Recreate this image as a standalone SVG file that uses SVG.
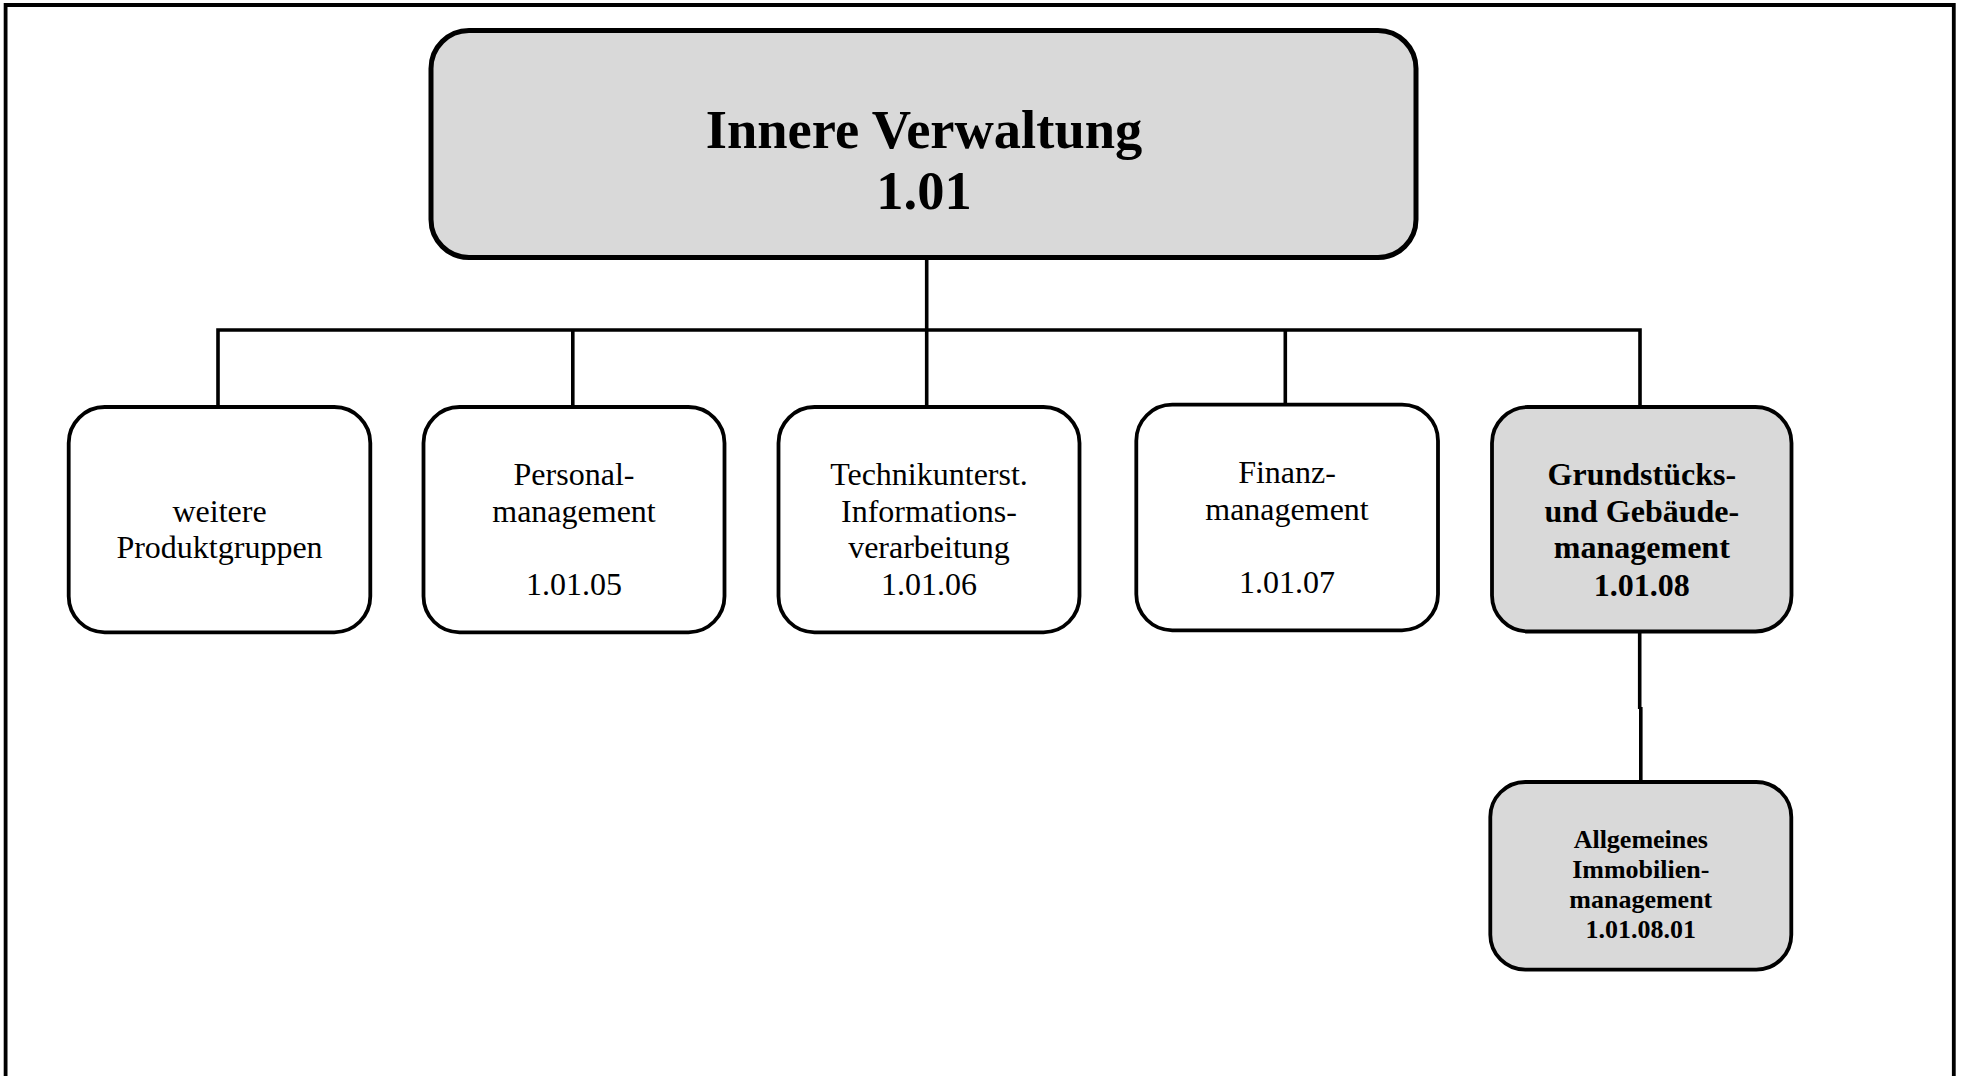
<svg xmlns="http://www.w3.org/2000/svg" width="1961" height="1076" viewBox="0 0 1961 1076">
<style>
  .frame { fill: none; stroke: #000; stroke-width: 3.8; }
  .box { fill: #fff; stroke: #000; stroke-width: 3.8; }
  .gray { fill: #d9d9d9; }
  .top { fill: #d9d9d9; stroke: #000; stroke-width: 5; }
  .conn { fill: none; stroke: #000; stroke-width: 3.6; }
  text { font-family: "Liberation Serif", "Times New Roman", serif; fill: #000; text-anchor: middle; }
  .t { font-size: 32px; }
  .tb { font-size: 32px; font-weight: bold; }
  .ts { font-size: 26px; font-weight: bold; }
  .title { font-size: 54.5px; font-weight: bold; }
</style>
<rect width="1961" height="1076" fill="#fff"/>
<path class="frame" d="M5.6,1080 V5 H1953.8 V1080"/>

<g id="connectors">
  <path class="conn" d="M926.7,258 V330"/>
  <path class="conn" d="M218,407 V330 H1640 V407"/>
  <path class="conn" d="M572.8,330 V407"/>
  <path class="conn" d="M926.7,330 V407"/>
  <path class="conn" d="M1285.3,330 V405"/>
  <path class="conn" d="M1639.7,631 V709"/>
  <path class="conn" d="M1640.8,707 V782"/>
</g>

<g id="node-innere-verwaltung">
  <rect class="top" x="431" y="30.5" width="985" height="227" rx="38" ry="38"/>
  <text class="title" x="924" y="147.5">Innere Verwaltung</text>
  <text class="title" x="924" y="209">1.01</text>
</g>

<g id="node-weitere">
  <rect class="box" x="68.7" y="407" width="301.6" height="225.3" rx="36" ry="36"/>
  <text class="t" x="219.5" y="521.7">weitere</text>
  <text class="t" x="219.5" y="558.3">Produktgruppen</text>
</g>

<g id="node-personal">
  <rect class="box" x="423.5" y="407" width="301" height="225.3" rx="36" ry="36"/>
  <text class="t" x="574" y="484.7">Personal-</text>
  <text class="t" x="574" y="522">management</text>
  <text class="t" x="574" y="595.3">1.01.05</text>
</g>

<g id="node-technik">
  <rect class="box" x="778.5" y="407" width="301" height="225.3" rx="36" ry="36"/>
  <text class="t" x="929" y="485">Technikunterst.</text>
  <text class="t" x="929" y="521.7">Informations-</text>
  <text class="t" x="929" y="558.4">verarbeitung</text>
  <text class="t" x="929" y="595.1">1.01.06</text>
</g>

<g id="node-finanz">
  <rect class="box" x="1136.3" y="404.7" width="301.7" height="225.6" rx="36" ry="36"/>
  <text class="t" x="1287" y="482.7">Finanz-</text>
  <text class="t" x="1287" y="520">management</text>
  <text class="t" x="1287" y="593.3">1.01.07</text>
</g>

<g id="node-grundstuecks">
  <rect class="box gray" x="1492" y="407" width="299.5" height="224.5" rx="36" ry="36"/>
  <text class="tb" x="1641.8" y="485">Grundstücks-</text>
  <text class="tb" x="1641.8" y="521.7">und Gebäude-</text>
  <text class="tb" x="1641.8" y="558.3">management</text>
  <text class="tb" x="1641.8" y="596">1.01.08</text>
</g>

<g id="node-immobilien">
  <rect class="box gray" x="1490.3" y="782" width="301" height="187.7" rx="35" ry="35"/>
  <text class="ts" x="1640.8" y="848.3">Allgemeines</text>
  <text class="ts" x="1640.8" y="878.3">Immobilien-</text>
  <text class="ts" x="1640.8" y="908">management</text>
  <text class="ts" x="1640.8" y="938.3">1.01.08.01</text>
</g>
</svg>
